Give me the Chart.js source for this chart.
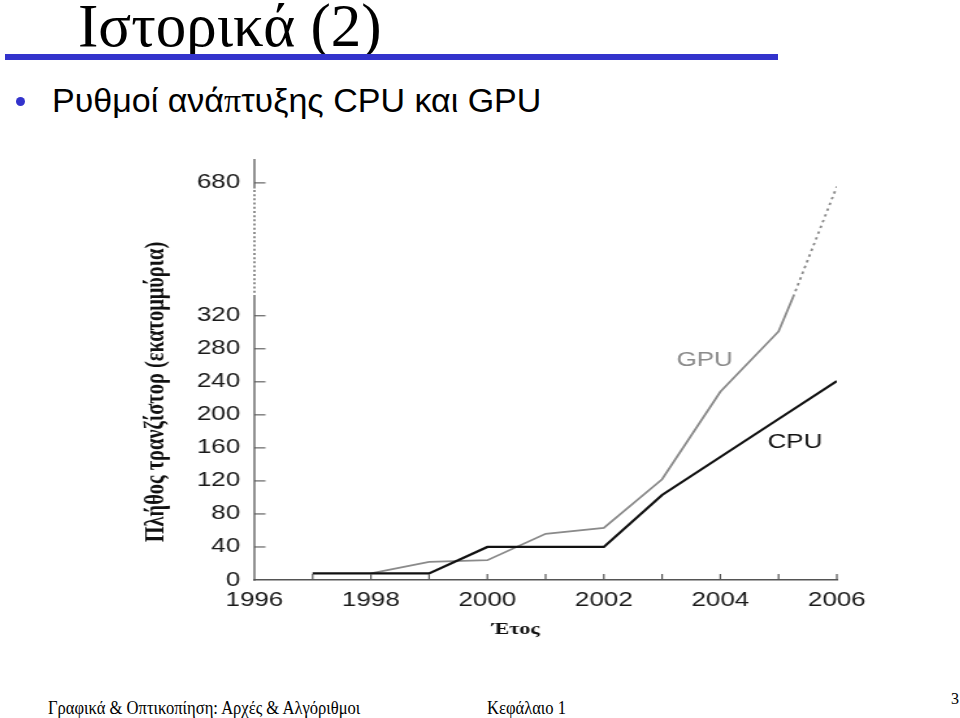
<!DOCTYPE html>
<html>
<head>
<meta charset="utf-8">
<script src="https://cdn.jsdelivr.net/npm/chart.js@4.4.1/dist/chart.umd.min.js"></script>
<style>
  html, body { margin: 0; padding: 0; background: #fff; }
  body { width: 960px; height: 718px; position: relative; overflow: hidden; }
  .abs { position: absolute; white-space: nowrap; }
</style>
</head>
<body>
<div class="abs" style="left:78px;top:-5px;font:61px 'Liberation Serif','Times New Roman',serif;line-height:61px;color:#000;">Ιστορικά (2)</div>
<div class="abs" style="left:5px;top:54px;width:773px;height:6px;background:#3333cc;"></div>
<div class="abs" style="left:15.5px;top:96.5px;width:9px;height:9px;border-radius:50%;background:#3333cc;"></div>
<div class="abs" style="left:52px;top:80px;font:34px 'Liberation Sans',Arial,sans-serif;line-height:40px;color:#000;">Ρυθμοί ανά<span style="font-family:'Liberation Serif','Times New Roman',serif;">π</span>τυξης CPU και GPU</div>

<div id="wrap" class="abs" style="left:140px;top:140px;width:580px;height:520px;transform:scaleX(1.3);transform-origin:0 0;">
  <canvas id="c" width="580" height="520"></canvas>
</div>

<div class="abs" style="left:48px;top:698px;font:18px 'Liberation Serif','Times New Roman',serif;line-height:20px;color:#000;transform:scaleX(0.92);transform-origin:0 0;">Γραφικά &amp; Οπτικοπίηση: Αρχές &amp; Αλγόριθμοι</div>
<div class="abs" style="left:487px;top:698px;font:18px 'Liberation Serif','Times New Roman',serif;line-height:20px;color:#000;transform:scaleX(0.92);transform-origin:0 0;">Κεφάλαιο 1</div>
<div class="abs" style="left:951px;top:690px;font:16px 'Liberation Serif','Times New Roman',serif;line-height:18px;color:#000;">3</div>

<script>
// ---- data ----
const cpuYears  = [1997, 1998, 1999, 2000, 2001, 2002, 2003, 2004, 2005, 2006];
const cpuValues = [8, 8, 8, 40, 40, 40, 103, 149, 195, 241];

const gpuYears  = [1998, 1999, 2000, 2001, 2002, 2003, 2004, 2005, 2005.25, 2006];
const gpuValues = [8, 22, 24, 56, 63, 122, 228, 301, 371, 670];
const gpuProjectedFrom = 8; // index from which the GPU line is a dotted projection

const xTickYears  = [1996, 1997, 1998, 1999, 2000, 2001, 2002, 2003, 2004, 2005, 2006];
const xLabelYears = [1996, 1998, 2000, 2002, 2004, 2006];
const yTickValues = [0, 40, 80, 120, 160, 200, 240, 280, 320, 680];

const xTitle = 'Έτος';
const yTitle = 'Πλήθος τρανζίστορ (εκατομμύρια)';
const seriesLabels = ['GPU', 'CPU'];

// broken y axis: values above 320 are compressed
const axisBreak = 320;
const compress = 0.447;
const toDisplay = v => v <= axisBreak ? v : axisBreak + (v - axisBreak) * compress;
const fromDisplay = d => d <= axisBreak ? d : axisBreak + (d - axisBreak) / compress;
const dottedAxisFrom = 371, dottedAxisTo = 665;

const FONT = "'Liberation Sans', Arial, sans-serif";
const SERIF = "'Liberation Serif', 'Times New Roman', serif";

const decorPlugin = {
  id: 'decor',
  afterDraw(chart) {
    const { ctx, chartArea, scales: { x, y } } = chart;
    const L = chartArea.left, B = chartArea.bottom;
    ctx.save();
    ctx.strokeStyle = '#555';
    ctx.lineWidth = 1.3;
    const vline = (y0, y1, dash) => {
      ctx.setLineDash(dash);
      ctx.beginPath(); ctx.moveTo(L, y0); ctx.lineTo(L, y1); ctx.stroke();
    };
    const pA = y.getPixelForValue(toDisplay(dottedAxisFrom));
    const pB = y.getPixelForValue(toDisplay(dottedAxisTo));
    vline(B + 0.75, pA, []);
    vline(pA, pB, [2, 2.2]);
    vline(pB, chartArea.top - 4, []);
    ctx.setLineDash([]);
    // y tick marks (inward)
    ctx.lineWidth = 1.1;
    yTickValues.forEach(v => {
      if (v === 0) return;
      const py = y.getPixelForValue(toDisplay(v));
      ctx.beginPath(); ctx.moveTo(L, py); ctx.lineTo(L + 8.5, py); ctx.stroke();
    });
    // x tick marks (inward)
    ctx.lineWidth = 1.2;
    xTickYears.forEach(v => {
      if (v === x.min) return;
      const px = x.getPixelForValue(v);
      ctx.beginPath(); ctx.moveTo(px, B); ctx.lineTo(px, B - 6); ctx.stroke();
    });
    // series labels
    ctx.font = '20px ' + FONT;
    ctx.textAlign = 'center';
    ctx.textBaseline = 'middle';
    ctx.fillStyle = '#8a8a8a';
    ctx.fillText(seriesLabels[0], x.getPixelForValue(2003.73), y.getPixelForValue(266));
    ctx.fillStyle = '#111';
    ctx.fillText(seriesLabels[1], x.getPixelForValue(2005.28), y.getPixelForValue(167));
    // axis titles
    ctx.fillStyle = '#111';
    ctx.font = 'bold 17px ' + SERIF;
    ctx.fillText(xTitle, L + 201, B + 50);
    ctx.save();
    ctx.translate(13, 252);
    ctx.rotate(-Math.PI / 2);
    ctx.font = 'bold 20.4px ' + SERIF;
    ctx.fillText(yTitle, 0, 0);
    ctx.restore();
    ctx.restore();
  }
};

new Chart(document.getElementById('c'), {
  type: 'line',
  data: {
    datasets: [
      {
        label: 'CPU',
        data: cpuYears.map((yr, i) => ({ x: yr, y: toDisplay(cpuValues[i]) })),
        borderColor: '#111',
        borderWidth: 2.2,
        pointRadius: 0,
        tension: 0,
        fill: false
      },
      {
        label: 'GPU',
        data: gpuYears.map((yr, i) => ({ x: yr, y: toDisplay(gpuValues[i]) })),
        borderColor: '#8a8a8a',
        borderWidth: 1.8,
        pointRadius: 0,
        tension: 0,
        fill: false,
        segment: {
          borderDash: c => c.p0DataIndex >= gpuProjectedFrom ? [2.5, 3.5] : undefined
        }
      }
    ]
  },
  options: {
    responsive: false,
    animation: false,
    devicePixelRatio: 1,
    layout: { padding: { left: 0, top: 17, right: 44, bottom: 0 } },
    plugins: { legend: { display: false }, tooltip: { enabled: false } },
    scales: {
      x: {
        type: 'linear',
        min: 1996,
        max: 2006,
        afterBuildTicks: s => { s.ticks = xTickYears.map(v => ({ value: v })); },
        afterFit: s => { s.height = 80; },
        ticks: {
          autoSkip: false,
          maxRotation: 0,
          padding: 8,
          color: '#1a1a1a',
          font: { family: FONT, size: 20 },
          callback: v => xLabelYears.includes(v) ? String(v) : ''
        },
        grid: { display: false, drawTicks: false },
        border: { display: true, color: '#555', width: 1.5 },
        title: { display: false }
      },
      y: {
        type: 'linear',
        min: 0,
        max: 505,
        afterBuildTicks: s => { s.ticks = yTickValues.map(v => ({ value: toDisplay(v) })); },
        afterFit: s => { s.width = 88; },
        ticks: {
          autoSkip: false,
          padding: 11,
          color: '#1a1a1a',
          font: { family: FONT, size: 20 },
          callback: v => String(Math.round(fromDisplay(v)))
        },
        grid: { display: false, drawTicks: false },
        border: { display: false },
        title: { display: false }
      }
    }
  },
  plugins: [decorPlugin]
});
</script>
</body>
</html>
